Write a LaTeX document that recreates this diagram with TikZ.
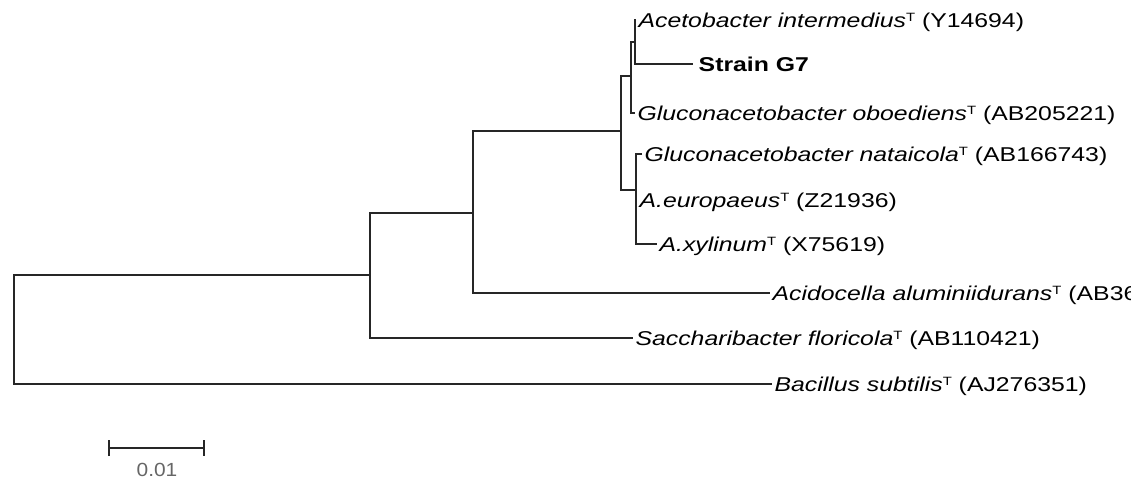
\documentclass[tikz,border=0pt]{standalone}
\usepackage{fontspec}
\setmainfont{Liberation Sans}
\usetikzlibrary{arrows.meta}

% type strain mark
\newcommand{\typ}{\raisebox{5.5pt}{\fontsize{12}{13}\selectfont T}}

\begin{document}
\begin{tikzpicture}[x=1pt,y=-1pt,line width=2.2pt,
  taxon/.style={anchor=west,inner xsep=1pt,inner ysep=0pt,xscale=1.24,
    font=\fontsize{20}{24}\selectfont,text height=18pt,text depth=3.7pt},
  branch/.style={draw=black!85,line join=miter}]

\useasboundingbox (0,0) rectangle (1131,481);
\clip (0,0) rectangle (1131,481);

% Internal nodes
\coordinate (root) at (14,275);
\coordinate (n2) at (370,275);
\coordinate (n3) at (473,213);
\coordinate (nC) at (621,131);
\coordinate (nB) at (631,76);
\coordinate (nA) at (635,42);
\coordinate (nD) at (636,190);

% Taxa
\node[taxon] (int) at (636,20) {\textit{Acetobacter intermedius}\typ{} (Y14694)};
\node[taxon,inner xsep=3.5pt] (g7) at (693,64) {\textbf{Strain G7}};
\node[taxon] (obo) at (635,113) {\textit{Gluconacetobacter oboediens}\typ{} (AB205221)};
\node[taxon] (nat) at (642,154) {\textit{Gluconacetobacter nataicola}\typ{} (AB166743)};
\node[taxon] (eur) at (637,200) {\textit{A.europaeus}\typ{} (Z21936)};
\node[taxon] (xyl) at (657,244) {\textit{A.xylinum}\typ{} (X75619)};
\node[taxon] (aci) at (770,293) {\textit{Acidocella aluminiidurans}\typ{} (AB36};
\node[taxon] (sac) at (633,338) {\textit{Saccharibacter floricola}\typ{} (AB110421)};
\node[taxon] (bac) at (772,384) {\textit{Bacillus subtilis}\typ{} (AJ276351)};

% Branches
\draw[branch] (int.west) -| (nA) |- (g7.west);
\draw[branch] (nA) -| (nB) |- (obo.west);
\draw[branch] (nat.west) -| (nD) |- (xyl.west);
\draw[branch] (nD |- eur.west) -- (eur.west);
\draw[branch] (nB) -| (nC) |- (nD);
\draw[branch] (nC) -| (n3) |- (aci.west);
\draw[branch] (n3) -| (n2) |- (sac.west);
\draw[branch] (n2) -| (root) |- (bac.west);

% Scale bar
\coordinate (sbl) at (108,448);
\coordinate (sbr) at (205,448);
\draw[branch,{Bar[width=16pt]}-{Bar[width=16pt]}] (sbl) -- (sbr);
\node[xscale=1.1,text=black!60,font=\fontsize{19}{22}\selectfont] (sbt) at (157,470) {0.01};

\end{tikzpicture}
\end{document}
